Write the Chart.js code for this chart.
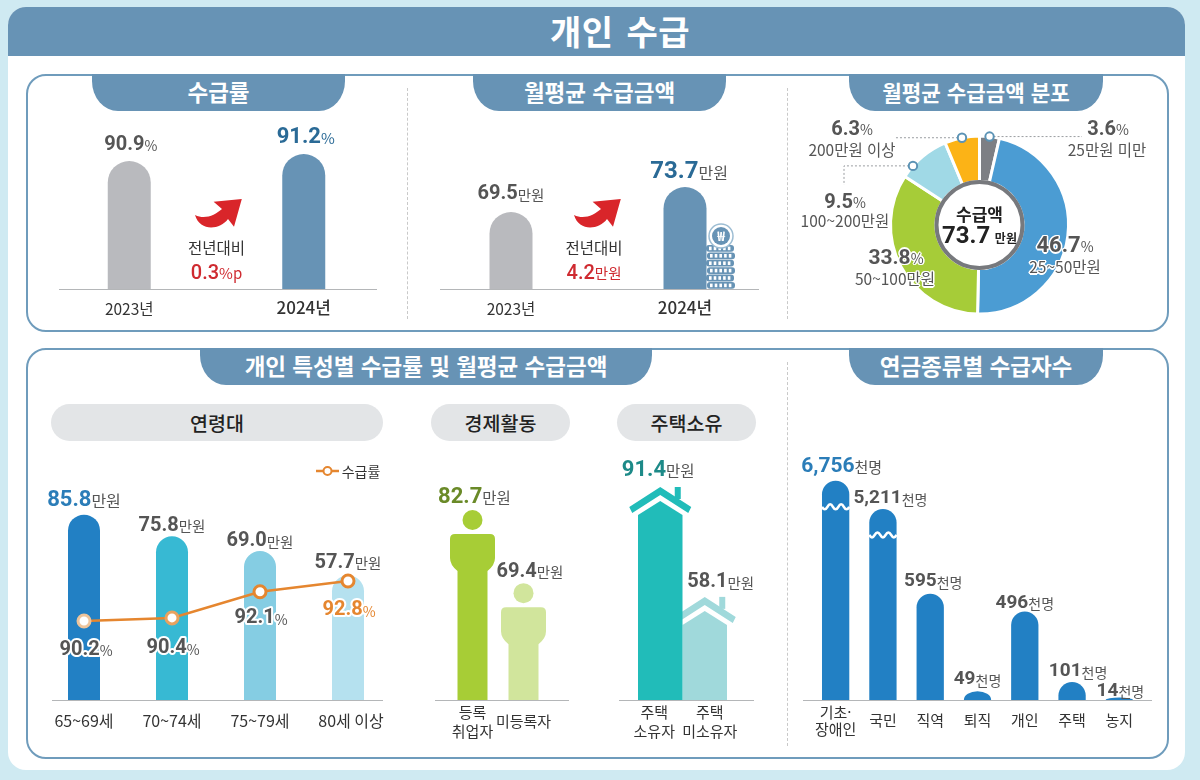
<!DOCTYPE html>
<html lang="ko">
<head>
<meta charset="utf-8">
<title>개인 수급</title>
<script src="https://cdn.jsdelivr.net/npm/chart.js@4"></script>
<style>
html,body{margin:0;padding:0}
body{width:1200px;height:780px;position:relative;overflow:hidden;background:#cfeaf2;font-family:"Noto Sans CJK KR",sans-serif;color:#333}
canvas{position:absolute;left:0;top:0}
.sheet{position:absolute;left:8px;top:7px;width:1177px;height:763px;background:#fff;border-radius:18px;overflow:hidden}
.head{position:absolute;left:0;top:0;width:100%;height:49px;background:#6793b5;color:#fff;font-weight:700;font-size:34px;line-height:47px;text-align:center;padding-left:47px;box-sizing:border-box;word-spacing:3px;letter-spacing:.5px}
.panel{position:absolute;left:26px;width:1139px;border:2px solid #6f9cbc;border-radius:20px;box-sizing:content-box}
.tab{position:absolute;background:#6793b5;color:#fff;font-weight:700;font-size:22.5px;line-height:35px;height:37px;text-align:center;border-radius:0 0 26px 26px/0 0 30px 30px}
.pill{position:absolute;top:404px;height:37px;line-height:37px;background:#e3e5e7;border-radius:19px;text-align:center;font-weight:500;font-size:19.5px;color:#222}
.sep{position:absolute;width:0;border-left:1px dashed #c9c9c9}
.t{position:absolute;white-space:nowrap;transform:translate(-50%,-50%);line-height:1}
.n{font-family:Roboto,"Noto Sans CJK KR",sans-serif;font-weight:700}
.halo{text-shadow:-1.5px 0 #fff,1.5px 0 #fff,0 -1.5px #fff,0 1.5px #fff,-1px -1px #fff,1px 1px #fff,-1px 1px #fff,1px -1px #fff}
svg{position:absolute;left:0;top:0}
</style>
</head>
<body>
<div class="sheet"><div class="head">개인 수급</div></div>
<div class="panel" style="top:74px;height:254px"></div>
<div class="panel" style="top:348px;height:407px"></div>
<div class="tab" style="left:92px;top:74px;width:253px">수급률</div>
<div class="tab" style="left:473px;top:74px;width:253px">월평균 수급금액</div>
<div class="tab" style="left:849px;top:74px;width:254px;font-size:21.2px">월평균 수급금액 분포</div>
<div class="tab" style="left:200px;top:348px;width:452px">개인 특성별 수급률 및 월평균 수급금액</div>
<div class="tab" style="left:849px;top:348px;width:254px">연금종류별 수급자수</div>
<div class="sep" style="left:407px;top:88px;height:231px"></div>
<div class="sep" style="left:787px;top:88px;height:231px"></div>
<div class="sep" style="left:787px;top:362px;height:384px"></div>
<div class="pill" style="left:51px;width:332px">연령대</div>
<div class="pill" style="left:431px;width:139px">경제활동</div>
<div class="pill" style="left:617px;width:139px">주택소유</div>

<canvas id="c1"></canvas><canvas id="c2"></canvas><canvas id="c3"></canvas>
<canvas id="c4"></canvas><canvas id="c5"></canvas><canvas id="c6"></canvas><canvas id="c7"></canvas>

<svg id="deco" width="1200" height="780"></svg>
<div id="texts"></div>

<script>
// data
const years=["2023년","2024년"];
const rateValues=[90.9,91.2];
const amountValues=[69.5,73.7];
const rateDelta="0.3";
const amountDelta="4.2";

const donutCats=["25만원 미만","25~50만원","50~100만원","100~200만원","200만원 이상"];
const donutValues=[3.6,46.7,33.8,9.5,6.3];
const donutCenter=73.7;

const ageCats=["65~69세","70~74세","75~79세","80세 이상"];
const ageAmount=[85.8,75.8,69.0,57.7];
const ageRate=[90.2,90.4,92.1,92.8];

const jobCats=[["등록","취업자"],"미등록자"];
const jobAmount=[82.7,69.4];

const houseCats=[["주택","소유자"],["주택","미소유자"]];
const houseAmount=[91.4,58.1];

const pensionCats=[["기초·","장애인"],"국민","직역","퇴직","개인","주택","농지"];
const pensionPeople=[6756,5211,595,49,496,101,14];

const KR='"Noto Sans CJK KR"';
const NUM='Roboto,"Noto Sans CJK KR"';

// value axis with a break, as the picture squeezes the two largest pensions
class BrokenScale extends Chart.LinearScale{
  getPixelForValue(v){
    const o=this.options, h=this.bottom-this.top;
    const low=o.breakFrac*h, f=v<=o.breakAt ? v/o.breakAt*low
      : low+(v-o.breakAt)/(this.max-o.breakAt)*(h-low);
    return this.bottom-f;
  }
}
BrokenScale.id="broken";
BrokenScale.defaults=Chart.LinearScale.defaults;
Chart.register(BrokenScale);

function domePath(ctx,x,y,base,w){
  const ry=Math.min(w/2,base-y);
  ctx.beginPath();
  ctx.moveTo(x-w/2,base);
  ctx.lineTo(x-w/2,y+ry);
  ctx.ellipse(x,y+ry,w/2,ry,0,Math.PI,2*Math.PI);
  ctx.lineTo(x+w/2,base);
  ctx.closePath();
}

function drawPerson(ctx,x,y,base,w){
  ctx.beginPath();ctx.arc(x,y+10,10,0,2*Math.PI);ctx.fill();
  const t=y+24,hw=22.5;
  ctx.beginPath();
  ctx.moveTo(x-hw+5,t);
  ctx.lineTo(x+hw-5,t);
  ctx.quadraticCurveTo(x+hw,t,x+hw,t+5);
  ctx.lineTo(x+hw,t+24);
  ctx.quadraticCurveTo(x+hw,t+31,x+w/2,t+37);
  ctx.lineTo(x+w/2,base);
  ctx.lineTo(x-w/2,base);
  ctx.lineTo(x-w/2,t+37);
  ctx.quadraticCurveTo(x-hw,t+31,x-hw,t+24);
  ctx.lineTo(x-hw,t+5);
  ctx.quadraticCurveTo(x-hw,t,x-hw+5,t);
  ctx.closePath();ctx.fill();
}

function drawHouse(ctx,x,y,base,w){
  const hw=w/2;
  // chimney
  ctx.fillRect(x+14.5,y,6,12);
  // roof band
  ctx.beginPath();
  ctx.moveTo(x,y);ctx.lineTo(x+31,y+20);ctx.lineTo(x+28,y+26);
  ctx.lineTo(x,y+8);ctx.lineTo(x-28,y+26);ctx.lineTo(x-31,y+20);
  ctx.closePath();ctx.fill();
  // body
  ctx.beginPath();
  ctx.moveTo(x,y+14);ctx.lineTo(x+hw,y+28);ctx.lineTo(x+hw,base);
  ctx.lineTo(x-hw,base);ctx.lineTo(x-hw,y+28);
  ctx.closePath();ctx.fill();
}

// bars are laid out by the library, only the outline is replaced
function shapes(kind,breakAt){
  return {id:"shapes",beforeDatasetDraw(chart,args){
    const ds=chart.data.datasets[args.index];
    if(ds.type==="line")return;
    const ctx=chart.ctx,bottom=chart.chartArea.bottom;
    ctx.save();
    const els=args.meta.data.map((el,i)=>[el,i]);
    if(kind==="house")els.reverse();
    els.forEach(([el,i])=>{
      const base=Math.min(el.base,bottom);
      ctx.fillStyle=el.options.backgroundColor;
      if(kind==="person")drawPerson(ctx,el.x,el.y,base,el.width);
      else if(kind==="house")drawHouse(ctx,el.x,el.y,base,el.width);
      else{domePath(ctx,el.x,el.y,base,el.width);ctx.fill();}
      if(breakAt&&ds.data[i]>breakAt){
        const l=el.x-el.width/2,s=el.width/5,yy=el.y+26;
        ctx.strokeStyle="#fff";ctx.lineWidth=2.6;
        ctx.beginPath();ctx.moveTo(l,yy);
        for(let k=0;k<5;k++)ctx.quadraticCurveTo(l+s*(k+.5),yy+(k%2?-5:5),l+s*(k+1),yy);
        ctx.stroke();
      }
    });
    ctx.restore();
    return false;
  }};
}

// value labels: big number + small unit, placed from each element's pixel
function labels(list){
  return {id:"labels",afterDraw(chart){
    const ctx=chart.ctx;
    list.forEach(l=>{
      chart.getDatasetMeta(l.dataset).data.forEach((el,i)=>{
        const v=chart.data.datasets[l.dataset].data[i];
        const num=l.fmt?l.fmt(v):v.toFixed(1);
        const big=(l.size[i]||l.size)+"px", small=(l.usize[i]||l.usize)+"px";
        const nf="700 "+big+" "+NUM, uf="400 "+small+" "+KR;
        ctx.save();
        ctx.textBaseline="middle";ctx.textAlign="left";
        ctx.font=nf;const nw=ctx.measureText(num).width;
        ctx.font=uf;const uw=ctx.measureText(l.unit).width;
        const x=el.x+(l.dx?l.dx[i]:0)-(nw+uw)/2, y=el.y+l.dy[i]+1.5;
        const col=Array.isArray(l.color)?l.color[i]:l.color;
        if(l.halo){
          ctx.strokeStyle="#fff";ctx.lineWidth=l.halo;ctx.lineJoin="round";
          ctx.font=nf;ctx.strokeText(num,x,y);
          ctx.font=uf;ctx.strokeText(l.unit,x+nw,y+1);
        }
        ctx.fillStyle=col;
        ctx.font=nf;ctx.fillText(num,x,y);
        ctx.font=uf;ctx.fillStyle=l.ucolor||col;ctx.fillText(l.unit,x+nw,y+1);
        ctx.restore();
      });
    });
  }};
}

function baseline(from,to){
  return {id:"baseline",beforeDatasetsDraw(chart){
    const ctx=chart.ctx,y=chart.chartArea.bottom+.5;
    ctx.save();ctx.strokeStyle="#b4b6b8";ctx.lineWidth=1;
    ctx.beginPath();ctx.moveTo(from,y);ctx.lineTo(to,y);ctx.stroke();ctx.restore();
  }};
}

// every chart is a page-sized canvas, the padding puts the plot area in place
function barChart(id,o){
  const yAxes={y:Object.assign({display:false},o.y)};
  if(o.y1)yAxes.y1=Object.assign({display:false},o.y1);
  return new Chart(document.getElementById(id),{
    type:"bar",
    data:{labels:o.cats,datasets:o.datasets},
    plugins:o.plugins,
    options:{
      responsive:false,animation:false,devicePixelRatio:1,
      layout:{padding:{left:o.left,right:1200-o.right,top:o.top,bottom:780-o.base-50}},
      plugins:{legend:{display:false},tooltip:{enabled:false}},
      scales:Object.assign({
        x:{
          grid:{display:false,drawTicks:false},border:{display:false},
          afterFit(s){
            s.height=50;
            // some tick labels sit a little off their bar centre
            if(o.tickShift&&!s._shifted){
              const f=s.getPixelForTick;
              s.getPixelForTick=i=>f.call(s,i)+o.tickShift[i];
              s._shifted=true;
            }
          },
          ticks:{autoSkip:false,maxRotation:0,padding:o.tickPad,crossAlign:"center",
            color:o.tickColor||"#333",font:o.tickFont||{family:KR,size:o.tickSize||15,lineHeight:o.tickLine||1.2}}
        }
      },yAxes)
    }
  });
}
[["c1"],["c2"],["c3"],["c4"],["c5"],["c6"],["c7"]].forEach(([id])=>{
  const c=document.getElementById(id);c.width=1200;c.height=780;
  c.style.width="1200px";c.style.height="780px";
});

const yearFont=ctx=>ctx.index===1?{family:KR,size:17,weight:"500"}:{family:KR,size:15.5};

barChart("c1",{
  cats:years,left:42,right:391,top:130,base:289,tickPad:19,tickFont:yearFont,
  y:{min:85.41,max:92.23},
  datasets:[{data:rateValues,backgroundColor:["#b9babe","#6793b5"],barThickness:43}],
  plugins:[baseline(59,377),shapes("dome"),labels([{dataset:0,unit:"%",size:[20,22],usize:[14,15],
    color:["#555","#2a6a96"],dx:[1.5,2],dy:[-18,-18]}])]
});

barChart("c2",{
  cats:years,left:424,right:772,top:130,base:289,tickPad:19,tickFont:yearFont,
  y:{min:56.56,max:83.28},
  datasets:[{data:amountValues,backgroundColor:["#b9babe","#6793b5"],barThickness:43}],
  plugins:[baseline(440,759),shapes("dome"),labels([{dataset:0,unit:"만원",size:[20,24],usize:[14.5,16],
    color:["#555","#2a6a96"],ucolor:"#555",dx:[0,4],dy:[-19,-17]}])]
});

barChart("c3",{
  cats:ageCats,left:40,right:392,top:480,base:700,tickPad:21,tickSize:16,tickShift:[0,0,0,3],
  y:{min:0,max:101.85},y1:{min:85.07,max:99.36},
  datasets:[
    {type:"line",label:"수급률",data:ageRate,yAxisID:"y1",order:0,borderColor:"#e5862f",borderWidth:2.6,
     pointRadius:6,pointBorderWidth:3,pointBackgroundColor:"#fff",
     pointBorderColor:["#eec49b","#e9a25f","#e5862f","#e5862f"],tension:0},
    {label:"수급금액",data:ageAmount,yAxisID:"y",order:1,backgroundColor:["#2280c4","#37b9d3","#85cde3","#b5e1ef"],barThickness:32}
  ],
  plugins:[baseline(52,383),shapes("dome"),labels([
    {dataset:1,unit:"만원",size:[22,20,20,20],usize:[16,14.5,14.5,14.5],
     color:["#2b7db8","#555","#555","#555"],ucolor:"#555",dy:[-16,-12,-11,-14]},
    {dataset:0,unit:"%",size:20,usize:14,color:["#555","#555","#555","#e5862f"],
     dx:[2,1,1,1],dy:[27,29,25,28],halo:4}
  ])]
});

barChart("c4",{
  cats:jobCats,left:447,right:549,top:480,base:700,tickPad:12,tickLine:1.3,
  y:{min:48.15,max:88.15},
  datasets:[{data:jobAmount,backgroundColor:["#a7cd36","#d1e59c"],barThickness:30}],
  plugins:[baseline(435,569),shapes("person"),labels([{dataset:0,unit:"만원",size:[22,20],usize:[15.5,14.5],
    color:["#6a8a28","#555"],ucolor:"#555",dx:[2,6.5],dy:[-14,-13]}])]
});

barChart("c5",{
  cats:houseCats,left:638,right:727,top:470,base:700,tickPad:12,tickLine:1.3,tickShift:[-6,5],
  y:{min:26.85,max:96.55},
  datasets:[{data:houseAmount,backgroundColor:["#21bcb9","#a0d9db"],barThickness:44.5}],
  plugins:[baseline(619,754),shapes("house"),labels([{dataset:0,unit:"만원",size:[22,20],usize:[15.5,14.5],
    color:["#1d8a88","#555"],ucolor:"#555",dx:[-2,16],dy:[-18,-16]}])]
});

barChart("c6",{
  cats:pensionCats,left:812,right:1143,top:470,base:700,tickPad:12,tickLine:1.17,
  y:{type:"broken",min:0,max:7351,breakAt:600,breakFrac:.466},
  datasets:[{data:pensionPeople,backgroundColor:"#2280c4",barThickness:27.3}],
  plugins:[baseline(803,1152),shapes("dome",1000),labels([{dataset:0,unit:"천명",
    fmt:v=>v.toLocaleString("en-US"),size:[21,19,19,19,19,19,19],usize:[15,14,14,14,14,14,14],
    color:["#2b7db8","#555","#555","#555","#555","#555","#555"],ucolor:"#555",
    dx:[6,7.5,3,0,0,6,1],dy:[-16,-12,-14,-13,-10,-12,-8]}])]
});

// leader lines and markers come from the arcs themselves
const leaders=[{i:0,frac:.5,toX:1082},{i:4,frac:.5,toX:895},{i:3,frac:.25,toX:844,drop:185}];
const donutDecor={id:"donutDecor",afterDatasetsDraw(chart){
  const ctx=chart.ctx,arcs=chart.getDatasetMeta(0).data,a0=arcs[0];
  ctx.save();
  ctx.beginPath();ctx.arc(a0.x,a0.y,43,0,2*Math.PI);
  ctx.fillStyle="#fff";ctx.fill();
  ctx.strokeStyle="#77797d";ctx.lineWidth=4;ctx.stroke();
  leaders.forEach(l=>{
    const a=arcs[l.i],ang=a.startAngle+(a.endAngle-a.startAngle)*l.frac;
    const px=a.x+Math.cos(ang)*a.outerRadius,py=a.y+Math.sin(ang)*a.outerRadius;
    ctx.setLineDash([2,2]);ctx.strokeStyle="#9a9da1";ctx.lineWidth=1;
    ctx.beginPath();ctx.moveTo(px,py);ctx.lineTo(l.toX,py);
    if(l.drop)ctx.lineTo(l.toX,l.drop);
    ctx.stroke();ctx.setLineDash([]);
    ctx.beginPath();ctx.arc(px,py,4.2,0,2*Math.PI);
    ctx.fillStyle="#fff";ctx.fill();ctx.strokeStyle="#5b93b5";ctx.lineWidth=2;ctx.stroke();
  });
  ctx.restore();
}};

new Chart(document.getElementById("c7"),{
  type:"doughnut",
  data:{labels:donutCats,datasets:[{data:donutValues,
    backgroundColor:["#7d7f84","#4b9cd3","#a6cc38","#a0d9e6","#fcb316"],borderColor:"#fff",borderWidth:3}]},
  plugins:[donutDecor],
  options:{
    responsive:false,animation:false,devicePixelRatio:1,cutout:"49%",
    layout:{padding:{left:889,right:130,top:134,bottom:464}},
    plugins:{legend:{display:false},tooltip:{enabled:false}}
  }
});

// plain page texts
const box=document.getElementById("texts");
function text(x,y,html,css,cls){
  const d=document.createElement("div");
  d.className="t "+(cls||"");d.style.cssText="left:"+x+"px;top:"+y+"px;"+(css||"");
  d.innerHTML=html;box.appendChild(d);
}
function val(x,y,num,unit,size,usize,color,halo){
  text(x,y,'<span class="n" style="font-size:'+size+'px;color:'+color+'">'+num+'</span><span style="font-size:'+usize+'px;color:#555">'+unit+'</span>','',halo?"halo":"");
}
text(216.5,248,"전년대비","font-size:15.5px;color:#333");
text(216.5,272,'<span class="n" style="font-weight:500;font-size:20px">'+rateDelta+'</span><span style="font-size:15px">%p</span>',"color:#cf2a30");
text(594,248,"전년대비","font-size:15.5px;color:#333");
text(594,272,'<span class="n" style="font-weight:500;font-size:20px">'+amountDelta+'</span><span style="font-size:14.5px">만원</span>',"color:#cf2a30");

const donutLabelPos=[[1108,128,1107,150,20],[1065,245,1065,267,22],[896,257,895,279,21],[845,201,845,221,20],[852,128,852,150,20]];
donutValues.forEach((v,i)=>{
  const p=donutLabelPos[i],halo=i===1||i===2;
  val(p[0],p[1],v.toFixed(1),"%",p[4],14,"#555",halo);
  text(p[2],p[3],donutCats[i],"font-size:15.5px;color:#555",halo?"halo":"");
});
text(979.5,213,"수급액","font-size:17px;font-weight:700;color:#222");
text(979.5,235,'<span class="n" style="font-size:24px;color:#222">'+donutCenter+'</span> <span style="font-size:12px;font-weight:700;color:#222">만원</span>');
text(361,471,"수급률","font-size:14px;color:#333");

// arrows, coins and legend sample
const svg=document.getElementById("deco");
let s="";
const arrow="M0,16 C10,21 20,16 27,10 L18.6,2.7 L46.8,0 L39,27.7 L33,20 C25,31 5,33 0,16 Z";
[[195,199],[574,199]].forEach(p=>{s+='<path d="'+arrow+'" transform="translate('+p[0]+','+p[1]+')" fill="#d9252a"/>';});
for(let r=0;r<6;r++){
  const y=245+r*7.4,x=r%2?707:706;
  s+='<rect x="'+x+'" y="'+y+'" width="28" height="6.8" rx="3" fill="#6793b5"/>';
  for(let k=0;k<5;k++)s+='<rect x="'+(x+3+k*4.7)+'" y="'+(y+1.6)+'" width="2.6" height="3.6" fill="#fff"/>';
}
s+='<circle cx="721" cy="236" r="12" fill="#fff" stroke="#9dbdd3" stroke-width="1.5"/><circle cx="721" cy="236" r="9" fill="#6793b5"/>';
s+='<text x="721" y="241" text-anchor="middle" font-size="13" font-weight="700" fill="#fff" font-family="Noto Sans CJK KR">₩</text>';
s+='<line x1="316" y1="471" x2="339" y2="471" stroke="#e5862f" stroke-width="2.5"/><circle cx="327.5" cy="471" r="4" fill="#fff" stroke="#e5862f" stroke-width="2"/>';
svg.innerHTML=s;
</script>
</body>
</html>
